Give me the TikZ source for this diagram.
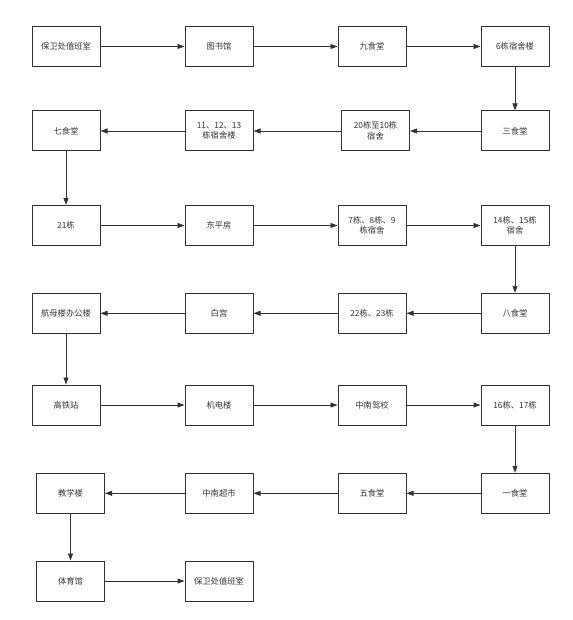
\documentclass[tikz,border=0pt]{standalone}
\usepackage{fontspec}
\newfontfamily\cjk{Noto Sans CJK SC}
\usetikzlibrary{arrows.meta}
\definecolor{ink}{HTML}{333333}
\begin{document}
\begin{tikzpicture}[x=1pt,y=-1pt,
  box/.style={draw=ink,line width=1pt,minimum width=68pt,minimum height=40pt,inner sep=1pt,
    align=center,text=ink,font=\cjk\fontsize{8.3}{10.5}\selectfont},
  link/.style={draw=ink,line width=0.9pt,-{Triangle[length=7pt,width=5pt]}}]
\useasboundingbox (0,0) rectangle (572,620);
% row 1
\node[box] (a1) at (66,46.5) {保卫处值班室};
\node[box] (a2) at (219,46.5) {图书馆};
\node[box] (a3) at (372,46.5) {九食堂};
\node[box] (a4) at (515,46.5) {6栋宿舍楼};
% row 2
\node[box] (b4) at (515,131) {三食堂};
\node[box] (b3) at (375.5,131) {20栋至10栋\\宿舍};
\node[box] (b2) at (219,131) {11、12、13\\栋宿舍楼};
\node[box] (b1) at (66,131) {七食堂};
% row 3
\node[box] (c1) at (66,225.5) {21栋};
\node[box] (c2) at (219,225.5) {东平房};
\node[box] (c3) at (372,225.5) {7栋、8栋、9\\栋宿舍};
\node[box] (c4) at (515,225.5) {14栋、15栋\\宿舍};
% row 4
\node[box] (d4) at (515,313.3) {八食堂};
\node[box] (d3) at (372,313.3) {22栋、23栋};
\node[box] (d2) at (219,313.3) {白宫};
\node[box] (d1) at (66,313.3) {航母楼办公楼};
% row 5
\node[box] (e1) at (66,405) {高铁站};
\node[box] (e2) at (219,405) {机电楼};
\node[box] (e3) at (372,405) {中南驾校};
\node[box] (e4) at (515,405) {16栋、17栋};
% row 6
\node[box] (f4) at (515,493.3) {一食堂};
\node[box] (f3) at (372,493.3) {五食堂};
\node[box] (f2) at (219,493.3) {中南超市};
\node[box] (f1) at (70.5,493.3) {教学楼};
% row 7
\node[box] (g1) at (70.5,581) {体育馆};
\node[box] (g2) at (219,581) {保卫处值班室};
% connectors
\draw[link] (a1) -- (a2);
\draw[link] (a2) -- (a3);
\draw[link] (a3) -- (a4);
\draw[link] (a4) -- (b4);
\draw[link] (b4) -- (b3);
\draw[link] (b3) -- (b2);
\draw[link] (b2) -- (b1);
\draw[link] (b1) -- (c1);
\draw[link] (c1) -- (c2);
\draw[link] (c2) -- (c3);
\draw[link] (c3) -- (c4);
\draw[link] (c4) -- (d4);
\draw[link] (d4) -- (d3);
\draw[link] (d3) -- (d2);
\draw[link] (d2) -- (d1);
\draw[link] (d1) -- (e1);
\draw[link] (e1) -- (e2);
\draw[link] (e2) -- (e3);
\draw[link] (e3) -- (e4);
\draw[link] (e4) -- (f4);
\draw[link] (f4) -- (f3);
\draw[link] (f3) -- (f2);
\draw[link] (f2) -- (f1);
\draw[link] (f1) -- (g1);
\draw[link] (g1) -- (g2);
\end{tikzpicture}
\end{document}
